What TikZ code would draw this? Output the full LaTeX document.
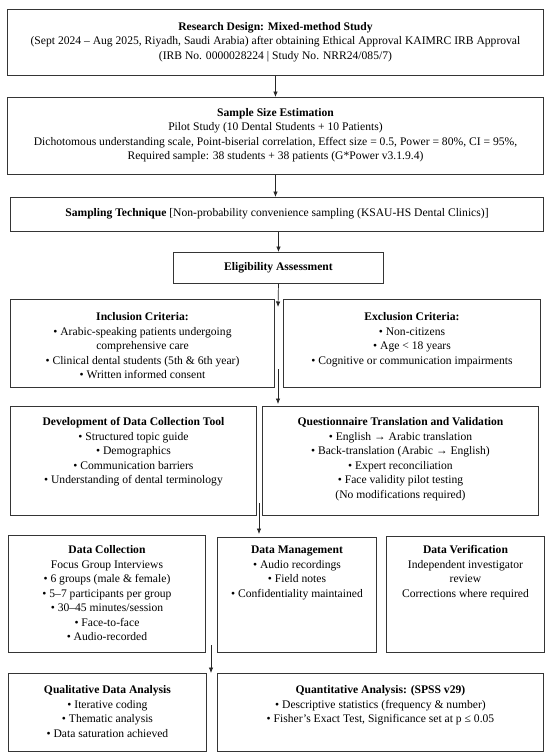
\documentclass[tikz,border=0pt]{standalone}
\usepackage{fontspec}
\setmainfont{Liberation Serif}
\usetikzlibrary{arrows.meta,calc}
\definecolor{brd}{HTML}{353535}
\newcommand{\fsz}{\fontsize{11.6pt}{14.5pt}\selectfont}
\newcommand{\fst}{\rule{0pt}{10pt}}
\begin{document}
\begin{tikzpicture}[x=1pt,y=-1pt,
  box/.style={draw=brd, line width=0.95pt, inner sep=0pt, anchor=north west},
  txt/.style={anchor=north, inner sep=0pt, align=center, font=\fsz},
  arr/.style={draw=black!85, line width=0.7pt, -{Latex[length=5.5pt,width=4.5pt]}}]
\useasboundingbox (0,0) rectangle (550,755);
\fill[white] (0,0) rectangle (550,755);

% boxes
\node[box, minimum width=536pt, minimum height=66pt] (b1) at (7,9) {};
\node[box, minimum width=536pt, minimum height=77pt] (b2) at (7,97) {};
\node[box, minimum width=533pt, minimum height=34pt] (b3) at (10,197) {};
\node[box, minimum width=210pt, minimum height=31pt] (elig) at (173,252) {};
\node[box, minimum width=264pt, minimum height=88pt] (incl) at (10,299) {};
\node[box, minimum width=257pt, minimum height=88pt] (excl) at (283,299) {};
\node[box, minimum width=246pt, minimum height=109pt] (dev) at (10,406) {};
\node[box, minimum width=276pt, minimum height=109pt] (quest) at (262,406) {};
\node[box, minimum width=197pt, minimum height=117pt] (dc) at (8,535) {};
\node[box, minimum width=159pt, minimum height=115.5pt] (dm) at (217,536.5) {};
\node[box, minimum width=158pt, minimum height=116pt] (dv) at (386,536) {};
\node[box, minimum width=198pt, minimum height=78pt] (qual) at (8,673) {};
\node[box, minimum width=326pt, minimum height=78pt] (quant) at (217,673) {};

% texts
\node[txt] (t1) at ([yshift=-11pt]b1.north) {\fst\textbf{Research Design: Mixed-method Study}\\
(Sept 2024 – Aug 2025, Riyadh, Saudi Arabia) after obtaining Ethical Approval KAIMRC IRB Approval\\
(IRB No. 0000028224 | Study No. NRR24/085/7)};
\node[txt] (t2) at ([yshift=-9.2pt]b2.north) {\fst\textbf{Sample Size Estimation}\\
Pilot Study (10 Dental Students + 10 Patients)\\
Dichotomous understanding scale, Point-biserial correlation, Effect size = 0.5, Power = 80\%, CI = 95\%,\\
Required sample: 38 students + 38 patients (G*Power v3.1.9.4)};
\node[txt] (t3) at ([yshift=-9.5pt]b3.north) {\fst\textbf{Sampling Technique} [Non-probability convenience sampling (KSAU-HS Dental Clinics)]};
\node[txt] (t4) at ([yshift=-8pt]elig.north) {\fst\textbf{Eligibility Assessment}};
\node[txt] (t5) at ([yshift=-11.4pt]incl.north) {\fst\textbf{Inclusion Criteria:}\\
• Arabic-speaking patients undergoing\\
comprehensive care\\
• Clinical dental students (5th \& 6th year)\\
• Written informed consent};
\node[txt] (t6) at ([yshift=-11.4pt]excl.north) {\fst\textbf{Exclusion Criteria:}\\
• Non-citizens\\
• Age < 18 years\\
• Cognitive or communication impairments};
\node[txt] (t7) at ([yshift=-9.4pt]dev.north) {\fst\textbf{Development of Data Collection Tool}\\
• Structured topic guide\\
• Demographics\\
• Communication barriers\\
• Understanding of dental terminology};
\node[txt] (t8) at ([yshift=-9.4pt]quest.north) {\fst\textbf{Questionnaire Translation and Validation}\\
• English → Arabic translation\\
• Back-translation (Arabic → English)\\
• Expert reconciliation\\
• Face validity pilot testing\\
(No modifications required)};
\node[txt] (t9) at ([yshift=-8.4pt]dc.north) {\fst\textbf{Data Collection}\\
Focus Group Interviews\\
• 6 groups (male \& female)\\
• 5–7 participants per group\\
• 30–45 minutes/session\\
• Face-to-face\\
• Audio-recorded};
\node[txt] (t10) at ([yshift=-6.9pt]dm.north) {\fst\textbf{Data Management}\\
• Audio recordings\\
• Field notes\\
• Confidentiality maintained};
\node[txt] (t11) at ([yshift=-7.4pt]dv.north) {\fst\textbf{Data Verification}\\
Independent investigator\\
review\\
Corrections where required};
\node[txt] (t12) at ([yshift=-10.4pt]qual.north) {\fst\textbf{Qualitative Data Analysis}\\
• Iterative coding\\
• Thematic analysis\\
• Data saturation achieved};
\node[txt] (t13) at ([yshift=-10.4pt]quant.north) {\fst\textbf{Quantitative Analysis: (SPSS v29)}\\
• Descriptive statistics (frequency \& number)\\
• Fisher’s Exact Test, Significance set at p ≤ 0.05};

% free arrow ends
\coordinate (g1) at (278,307);
\coordinate (g2a) at (278,369);
\coordinate (g2b) at (278,404);
\coordinate (g3a) at (259,503);
\coordinate (g3b) at (259,534);
\coordinate (g4a) at (211,645);
\coordinate (g4b) at (211,673);

% connectors
\draw[arr] (b1.south) -- (b2.north);
\draw[arr] (b2.south) -- (b2.south |- b3.north);
\draw[arr] (elig.north |- b3.south) -- (elig.north);
\draw[arr] (elig.south) -- (g1);
\draw[arr] (g2a) -- (g2b);
\draw[arr] (g3a) -- (g3b);
\draw[arr] (g4a) -- (g4b);
\end{tikzpicture}
\end{document}
